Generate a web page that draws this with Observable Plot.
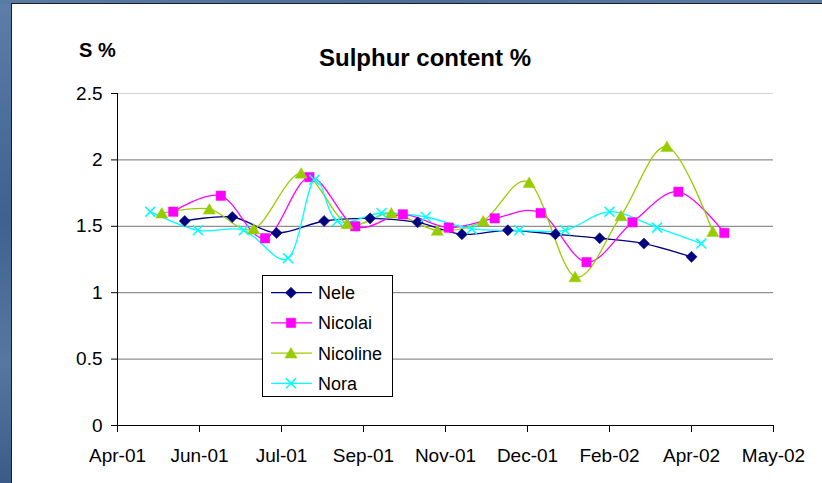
<!DOCTYPE html>
<html><head><meta charset="utf-8">
<script src="https://cdn.jsdelivr.net/npm/d3@7"></script>
<script src="https://cdn.jsdelivr.net/npm/@observablehq/plot@0.6"></script>
<style>
html,body{margin:0;padding:0;background:#fff;overflow:hidden;}
#page{position:relative;width:822px;height:483px;overflow:hidden;background:#4a6c97;}
#topband{position:absolute;left:0;top:0;width:822px;height:4px;background:linear-gradient(90deg,#5a7ba4,#4b6d98,#5c7da6);z-index:5;}
#leftband{position:absolute;left:0;top:0;width:12px;height:483px;background:linear-gradient(180deg,#5d7ea8,#3f6190 45%,#56789f 75%,#3a5b87);}
#panel{position:absolute;left:12px;top:4px;width:810px;height:479px;background:#fff;}
#edgeTop{position:absolute;left:11px;top:3px;width:811px;height:1px;background:#1e1e1e;z-index:6;}
#edgeLeft{position:absolute;left:11px;top:3px;width:1px;height:480px;background:#1e1e1e;}
#chart{position:absolute;left:0;top:0;width:822px;height:483px;}
#chart svg{display:block;}
#overlay{position:absolute;left:0;top:0;}
#cover{position:absolute;left:807px;top:4px;width:15px;height:479px;background:#fff;z-index:4;}
</style></head><body>
<div id="page"><div id="topband"></div><div id="leftband"></div><div id="panel"></div><div id="edgeTop"></div><div id="edgeLeft"></div><div id="chart"></div>
<svg id="overlay" width="600" height="483"></svg><div id="cover"></div></div>
<script>
// ---- data ----
const xDomain = ["2001-04-19", "2002-05-24"];
const xTicks = ["2001-04-19","2001-06-08","2001-07-28","2001-09-16","2001-11-05","2001-12-25","2002-02-13","2002-04-04","2002-05-24"];
const yTicks = [0, 0.5, 1, 1.5, 2, 2.5];
const seriesNames = ["Nele", "Nicolai", "Nicoline", "Nora"];

const neleDates = ["2001-05-30","2001-06-28","2001-07-25","2001-08-23","2001-09-20","2001-10-19","2001-11-15","2001-12-13","2002-01-11","2002-02-07","2002-03-06","2002-04-04"];
const neleValues = [1.54,1.57,1.45,1.54,1.56,1.53,1.44,1.47,1.44,1.41,1.37,1.27];

const nicolaiDates = ["2001-05-23","2001-06-21","2001-07-18","2001-08-14","2001-09-11","2001-10-10","2001-11-07","2001-12-05","2002-01-02","2002-01-30","2002-02-27","2002-03-27","2002-04-24"];
const nicolaiValues = [1.61,1.73,1.41,1.87,1.50,1.59,1.49,1.56,1.60,1.23,1.53,1.76,1.45];

const nicolineDates = ["2001-05-16","2001-06-14","2001-07-11","2001-08-09","2001-09-06","2001-10-03","2001-10-31","2001-11-28","2001-12-26","2002-01-23","2002-02-20","2002-03-20","2002-04-17"];
const nicolineValues = [1.60,1.63,1.48,1.90,1.52,1.60,1.47,1.54,1.83,1.12,1.58,2.10,1.46];

const noraDates = ["2001-05-09","2001-06-07","2001-07-05","2001-08-01","2001-08-17","2001-08-31","2001-09-27","2001-10-24","2001-11-21","2001-12-20","2002-01-17","2002-02-13","2002-03-14","2002-04-10"];
const noraValues = [1.61,1.47,1.47,1.26,1.85,1.54,1.60,1.57,1.48,1.47,1.47,1.61,1.49,1.37];

// ---- styles ----
const colors = {Nele:"#000080", Nicolai:"#ff00ff", Nicoline:"#99cc00", Nora:"#00ffff"};
const parse = d3.utcParse("%Y-%m-%d");
function rows(dates, values){ return dates.map((d,i)=>({date:parse(d), value:values[i]})); }
const data = {
  Nele: rows(neleDates, neleValues),
  Nicolai: rows(nicolaiDates, nicolaiValues),
  Nicoline: rows(nicolineDates, nicolineValues),
  Nora: rows(noraDates, noraValues)
};
const symbolSpec = {
  Nele: {symbol:"diamond2", r:5.0, fill:colors.Nele, stroke:colors.Nele, strokeWidth:0.5},
  Nicolai: {symbol:"square", r:5.3, fill:colors.Nicolai, stroke:colors.Nicolai, strokeWidth:0.5},
  Nicoline: {symbol:"triangle", r:4.5, fill:colors.Nicoline, stroke:colors.Nicoline, strokeWidth:0.5, dy:1.5},
  Nora: {symbol:"times", r:4.6, stroke:colors.Nora, strokeWidth:1.6, fill:"none"}
};

const marks = [
  Plot.ruleY([0.5,1,1.5,2], {stroke:"#747474", strokeWidth:1}),
  Plot.ruleY([2.5], {stroke:"#d6d6d6", strokeWidth:1}),
  Plot.ruleX([parse(xDomain[0])], {stroke:"#000", strokeWidth:1}),
  Plot.ruleY([0], {stroke:"#000", strokeWidth:1}),
  Plot.axisX({ticks: xTicks.map(parse), tickFormat: d3.utcFormat("%b-%y"), tickSize:7, tickPadding:16, label:null, stroke:"#000"}),
  Plot.axisY({ticks: yTicks, tickFormat: d=>String(d), tickSize:6, tickPadding:9, label:null, stroke:"#000"})
];
for (const name of seriesNames) {
  marks.push(Plot.line(data[name], {x:"date", y:"value", stroke:colors[name], strokeWidth:1.3, curve:"cardinal"}));
}
for (const name of seriesNames) {
  marks.push(Plot.dot(data[name], {x:"date", y:"value", ...symbolSpec[name]}));
}

const chart = Plot.plot({
  width: 822, height: 483,
  marginLeft: 117, marginRight: 49, marginTop: 93, marginBottom: 58,
  style: {background:"transparent", fontFamily:"'Liberation Sans', Arial, sans-serif", fontSize:"19px", color:"#000"},
  x: {type:"utc", domain: xDomain.map(parse)},
  y: {domain:[0, 2.5]},
  marks
});
document.getElementById("chart").appendChild(chart);

// ---- title, unit label, legend ----
const ov = d3.select("#overlay").style("font-family","'Liberation Sans', Arial, sans-serif");
ov.append("text").attr("x",425).attr("y",66).attr("text-anchor","middle")
  .attr("font-weight","bold").attr("font-size",24).text("Sulphur content %");
ov.append("text").attr("x",79).attr("y",57)
  .attr("font-weight","bold").attr("font-size",20).text("S %");

const lg = ov.append("g");
lg.append("rect").attr("x",262.5).attr("y",275.5).attr("width",130).attr("height",121)
  .attr("fill","#fff").attr("stroke","#000").attr("stroke-width",1);
const d3sym = {diamond2:d3.symbolDiamond2, square:d3.symbolSquare, triangle:d3.symbolTriangle, times:d3.symbolTimes};
seriesNames.forEach((name,i)=>{
  const cy = 292.7 + i*30.2;
  const g = lg.append("g");
  g.append("line").attr("x1",271).attr("x2",312).attr("y1",cy).attr("y2",cy)
    .attr("stroke",colors[name]).attr("stroke-width",1.3);
  const s = symbolSpec[name];
  g.append("path").attr("transform",`translate(291,${cy + (s.dy||0)})`)
    .attr("d", d3.symbol(d3sym[s.symbol], Math.PI*s.r*s.r)())
    .attr("fill", s.fill).attr("stroke", s.stroke).attr("stroke-width", s.strokeWidth);
  g.append("text").attr("x",318).attr("y",cy+6.5).attr("font-size",18).text(name);
});
</script>
</body></html>
